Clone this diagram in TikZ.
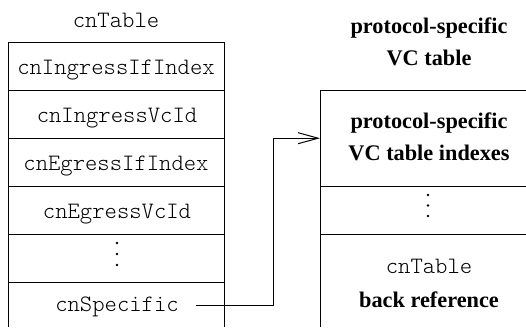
\documentclass[tikz,border=0pt]{standalone}
\usepackage{fontspec}
\setmainfont{Liberation Serif}
\setmonofont{Latin Modern Mono Light}
\usetikzlibrary{arrows.meta,calc}

\tikzset{
  frame/.style={line width=1pt, draw=black},
  mono/.style={font=\fontsize{23.5}{26}\selectfont\ttfamily, inner sep=0pt, anchor=base,
               text height=15pt, text depth=4pt},
  label/.style={font=\fontsize{22.3}{26}\selectfont\bfseries, inner sep=0pt, anchor=base},
  dot/.style={fill=black, circle, inner sep=0pt, minimum size=2.6pt},
  link/.style={line width=1pt, -{Straight Barb[length=20pt, width=11pt, line width=1pt]}},
}

\begin{document}
\begin{tikzpicture}[x=1pt, y=-1pt]
  \useasboundingbox (0,0) rectangle (526,327);

  % ---- cnTable (left) ----
  \node[mono] (ltitle) at (116,27) {cnTable};
  \draw[frame] (8,327) -- (8,42) -- (224,42) -- (224,327);
  \foreach \yy in {90,138,186,234,282} \draw[frame] (8,\yy) -- (224,\yy);
  \node[mono] (ingif)  at (116,74)  {cnIngressIfIndex};
  \node[mono] (ingvc)  at (117,122) {cnIngressVcId};
  \node[mono] (egrif)  at (116,170) {cnEgressIfIndex};
  \node[mono] (egrvc)  at (117,218) {cnEgressVcId};
  \node[dot] (ld1) at (117,243) {};
  \node[dot] (ld2) at (117,254) {};
  \node[dot] (ld3) at (117,265) {};
  \node[mono, inner xsep=17pt] (spec) at (117,311) {cnSpecific};

  % ---- protocol-specific VC table (right) ----
  \node[label] (rtitle1) at (429,33) {protocol-specific};
  \node[label] (rtitle2) at (429,65) {VC table};
  \draw[frame] (320,327) -- (320,90) -- (527,90);
  \foreach \yy in {186,234} \draw[frame] (320,\yy) -- (527,\yy);
  \node[inner sep=0pt, minimum width=0pt, minimum height=96pt, anchor=north west] (idx) at (320,90) {};
  \node[label] (idx1) at (429,128) {protocol-specific};
  \node[label] (idx2) at (429,160) {VC table indexes};
  \node[dot] (rd1) at (428,195) {};
  \node[dot] (rd2) at (428,205.5) {};
  \node[dot] (rd3) at (428,216) {};
  \node[mono] (back1) at (429,273) {cnTable};
  \node[label] (back2) at (429,307) {back reference};

  % ---- pointer from cnSpecific to the index entries ----
  \coordinate (bendx) at (273,0);
  \draw[link] (spec.east) -- (spec.east -| bendx) |- (idx.west);
\end{tikzpicture}
\end{document}
